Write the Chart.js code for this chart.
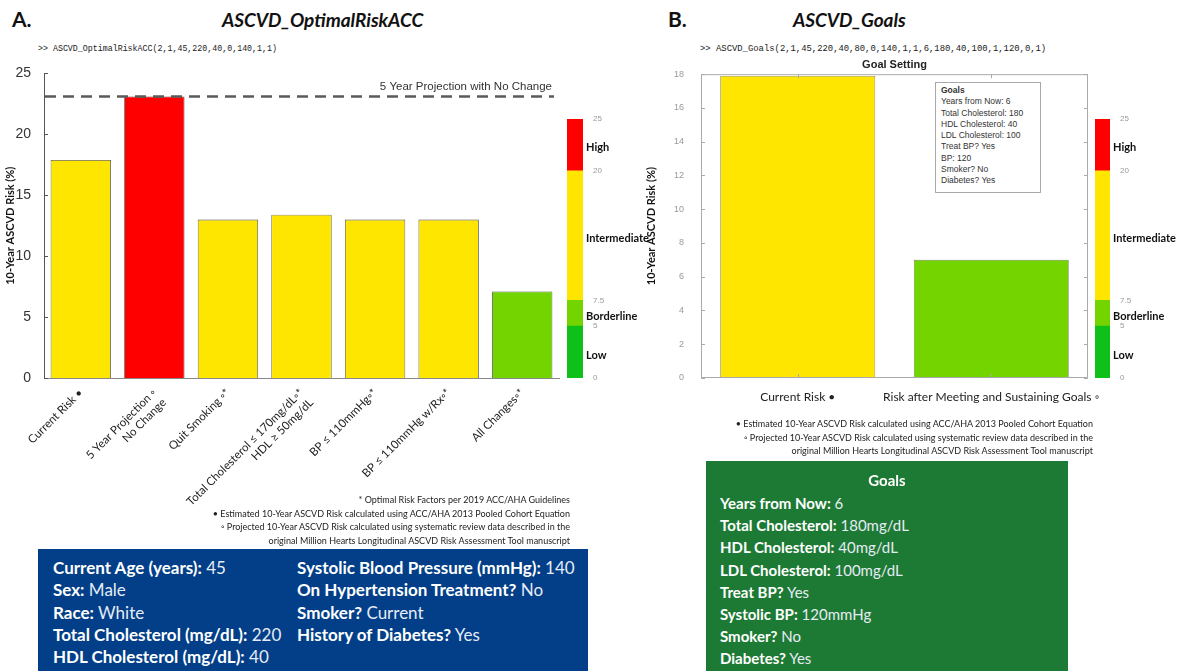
<!DOCTYPE html>
<html>
<head>
<meta charset="utf-8">
<script src="https://cdn.jsdelivr.net/npm/chart.js@4.4.1/dist/chart.umd.min.js"></script>
<style>
  body { margin: 0; width: 1180px; height: 671px; overflow: hidden; background: #fff; position: relative; font-family: Lato, "Open Sans", sans-serif; color: #111; }
  .abs { position: absolute; white-space: nowrap; }
  canvas { position: absolute; }
  .panel { font-weight: bold; font-size: 21px; }
  .ftitle { font-weight: bold; font-style: italic; font-size: 19px; }
  .cmd { font-family: "Liberation Mono", monospace; font-size: 8.3px; color: #222; }
  .foot { font-size: 9px; line-height: 13.5px; text-align: right; color: #222; }
  .goalsBox { border: 1px solid #aaa; background: #fff; font-family: "Liberation Sans", sans-serif; font-size: 8.5px; line-height: 11.3px; color: #333; padding: 2px 0 0 5px; box-sizing: border-box; }
  .info { font-size: 15px; line-height: 22.2px; color: #e6ecf5; }
  .info b { color: #fff; }
  .blue { font-size: 17px; line-height: 22.3px; }
</style>
</head>
<body>

<div class="abs panel" style="left:12px; top:6px;">A.</div>
<div class="abs ftitle" style="left:222px; top:8px;">ASCVD_OptimalRiskACC</div>
<div class="abs cmd" style="left:38px; top:44px;">&gt;&gt; ASCVD_OptimalRiskACC(2,1,45,220,40,0,140,1,1)</div>

<div class="abs panel" style="left:668px; top:6px;">B.</div>
<div class="abs ftitle" style="left:793px; top:8px;">ASCVD_Goals</div>
<div class="abs cmd" style="left:700px; top:44px; font-size:8.9px;">&gt;&gt; ASCVD_Goals(2,1,45,220,40,80,0,140,1,1,6,180,40,100,1,120,0,1)</div>

<canvas id="chartA" width="560" height="450" style="left:0px; top:60px;"></canvas>
<canvas id="barA" width="110" height="275" style="left:567px; top:110px;"></canvas>
<canvas id="chartB" width="460" height="360" style="left:640px; top:55px;"></canvas>
<canvas id="barB" width="85" height="275" style="left:1095px; top:110px;"></canvas>

<div class="abs goalsBox" style="left:935px; top:82px; width:106px; height:111px;">
  <b>Goals</b><br>Years from Now: 6<br>Total Cholesterol: 180<br>HDL Cholesterol: 40<br>LDL Cholesterol: 100<br>Treat BP? Yes<br>BP: 120<br>Smoker? No<br>Diabetes? Yes
</div>

<div class="abs foot" style="right:610px; top:493px;">
  * Optimal Risk Factors per 2019 ACC/AHA Guidelines<br>
  • Estimated 10-Year ASCVD Risk calculated using ACC/AHA 2013 Pooled Cohort Equation<br>
  ◦ Projected 10-Year ASCVD Risk calculated using systematic review data described in the<br>
  original Million Hearts Longitudinal ASCVD Risk Assessment Tool manuscript
</div>
<div class="abs foot" style="right:87px; top:417px;">
  • Estimated 10-Year ASCVD Risk calculated using ACC/AHA 2013 Pooled Cohort Equation<br>
  ◦ Projected 10-Year ASCVD Risk calculated using systematic review data described in the<br>
  original Million Hearts Longitudinal ASCVD Risk Assessment Tool manuscript
</div>

<div class="abs info blue" style="left:38px; top:549px; width:550px; height:122px; background:#023f88;">
  <div class="abs" style="left:15px; top:8px;">
    <b>Current Age (years):</b> 45<br><b>Sex:</b> Male<br><b>Race:</b> White<br><b>Total Cholesterol (mg/dL):</b> 220<br><b>HDL Cholesterol (mg/dL):</b> 40
  </div>
  <div class="abs" style="left:259px; top:8px;">
    <b>Systolic Blood Pressure (mmHg):</b> 140<br><b>On Hypertension Treatment?</b> No<br><b>Smoker?</b> Current<br><b>History of Diabetes?</b> Yes
  </div>
</div>

<div class="abs info" style="left:706px; top:461px; width:362px; height:210px; background:#1d7a34;">
  <div class="abs" style="left:0; top:8px; width:362px; text-align:center;"><b>Goals</b></div>
  <div class="abs" style="left:14px; top:31px;">
    <b>Years from Now:</b> 6<br><b>Total Cholesterol:</b> 180mg/dL<br><b>HDL Cholesterol:</b> 40mg/dL<br><b>LDL Cholesterol:</b> 100mg/dL<br><b>Treat BP?</b> Yes<br><b>Systolic BP:</b> 120mmHg<br><b>Smoker?</b> No<br><b>Diabetes?</b> Yes
  </div>
</div>

<script>
// panel A data
const riskLabels = [
    ['Current Risk •'],
    ['5 Year Projection ◦', 'No Change'],
    ['Quit Smoking ◦*'],
    ['Total Cholesterol ≤ 170mg/dL◦*', 'HDL ≥ 50mg/dL'],
    ['BP ≤ 110mmHg◦*'],
    ['BP ≤ 110mmHg w/Rx◦*'],
    ['All Changes◦*']
];
const riskValues = [17.9, 23.1, 13.0, 13.4, 13.0, 13.0, 7.1];
const projectionValue = 23.1;
const projectionText = '5 Year Projection with No Change';

// panel B data
const goalLabels = ['Current Risk •', 'Risk after Meeting and Sustaining Goals ◦'];
const goalValues = [17.9, 7.0];

// risk bands for the colour bars
const bandEdges = [0, 5, 7.5, 20, 25];
const bandNames = ['Low', 'Borderline', 'Intermediate', 'High'];
const bandColors = ['#0fc01a', '#74d400', '#ffe600', '#ff0000'];

function colorFor(v) {
    for (let i = bandEdges.length - 2; i >= 0; i--) {
        if (v >= bandEdges[i]) return bandColors[i];
    }
    return bandColors[0];
}

const lato = 'Lato, "Open Sans", sans-serif';
const helv = '"Liberation Sans", Arial, sans-serif';

// ticks pointing into the plot, MATLAB style
const inwardTicks = {
    id: 'inwardTicks',
    afterDraw(chart, args, opts) {
        const { ctx, chartArea: a, scales: { x, y } } = chart;
        ctx.save();
        ctx.strokeStyle = opts.color;
        ctx.lineWidth = 1;
        ctx.beginPath();
        y.ticks.forEach(t => {
            const p = Math.round(y.getPixelForValue(t.value)) + 0.5;
            ctx.moveTo(a.left, p); ctx.lineTo(a.left + opts.len, p);
            if (opts.box) { ctx.moveTo(a.right, p); ctx.lineTo(a.right - opts.len, p); }
        });
        if (opts.box) {
            x.ticks.forEach((t, i) => {
                const p = Math.round(x.getPixelForTick(i)) + 0.5;
                ctx.moveTo(p, a.top); ctx.lineTo(p, a.top + opts.len);
                ctx.moveTo(p, a.bottom); ctx.lineTo(p, a.bottom - opts.len);
            });
            ctx.rect(a.left + 0.5, a.top + 0.5, a.width - 1, a.height - 1);
        }
        ctx.stroke();
        ctx.restore();
    }
};

const projectionLine = {
    id: 'projectionLine',
    afterDatasetsDraw(chart) {
        const { ctx, chartArea, scales: { y } } = chart;
        const py = y.getPixelForValue(projectionValue);
        ctx.save();
        ctx.strokeStyle = '#5a5a5a';
        ctx.lineWidth = 2.5;
        ctx.setLineDash([11, 7]);
        ctx.beginPath();
        ctx.moveTo(chartArea.left + 1, py);
        ctx.lineTo(chartArea.right - 5, py);
        ctx.stroke();
        ctx.setLineDash([]);
        ctx.font = '11.5px ' + helv;
        ctx.fillStyle = '#333';
        ctx.textAlign = 'right';
        ctx.textBaseline = 'bottom';
        ctx.fillText(projectionText, chartArea.right - 7, py - 4);
        ctx.restore();
    }
};

const bandText = {
    id: 'bandText',
    afterDraw(chart) {
        const { ctx, chartArea, scales: { y } } = chart;
        ctx.save();
        ctx.font = 'bold 11px ' + lato;
        ctx.fillStyle = '#111';
        ctx.textBaseline = 'middle';
        bandNames.forEach((name, i) => {
            const mid = y.getPixelForValue((bandEdges[i] + bandEdges[i + 1]) / 2);
            ctx.fillText(name, chartArea.right + 3, mid + 3);
        });
        ctx.restore();
    }
};

function makeColorBar(id, axisWidth) {
    new Chart(document.getElementById(id), {
        type: 'bar',
        data: {
            labels: [''],
            datasets: bandNames.map((name, i) => ({
                label: name,
                data: [[bandEdges[i], bandEdges[i + 1]]],
                backgroundColor: bandColors[i],
                borderWidth: 0,
                grouped: false,
                barPercentage: 1,
                categoryPercentage: 1
            }))
        },
        options: {
            responsive: false,
            animation: false,
            layout: { padding: { top: 9, bottom: 7, left: 0, right: 0 } },
            plugins: { legend: { display: false }, tooltip: { enabled: false } },
            scales: {
                x: { display: false },
                y: {
                    position: 'right',
                    min: 0, max: 25,
                    grid: { display: false },
                    border: { display: false },
                    afterBuildTicks: axis => { axis.ticks = bandEdges.map(v => ({ value: v })); },
                    afterFit: axis => { axis.width = axisWidth; },
                    ticks: { padding: 2, color: '#999', font: { size: 8, family: helv } }
                }
            }
        },
        plugins: [bandText]
    });
}

// panel A
new Chart(document.getElementById('chartA'), {
    type: 'bar',
    data: {
        labels: riskLabels,
        datasets: [{
            data: riskValues,
            backgroundColor: riskValues.map(colorFor),
            borderColor: '#444',
            borderWidth: 0.8,
            barPercentage: 0.82,
            categoryPercentage: 1
        }]
    },
    options: {
        responsive: false,
        animation: false,
        layout: { padding: { top: 7, right: 1, bottom: 0, left: 0 } },
        plugins: {
            legend: { display: false },
            tooltip: { enabled: false },
            inwardTicks: { color: '#555', len: 4, box: false }
        },
        scales: {
            x: {
                grid: { display: false },
                border: { color: '#888' },
                afterFit: axis => { axis.height = 132; axis.paddingLeft = 0; axis.paddingRight = 0; },
                ticks: {
                    autoSkip: false, minRotation: 45, maxRotation: 45, padding: 0,
                    color: '#222', font: { size: 11.5, family: lato }
                }
            },
            y: {
                min: 0, max: 25,
                grid: { display: false },
                border: { color: '#555' },
                afterFit: axis => { axis.width = 44; },
                ticks: { stepSize: 5, padding: 5, color: '#333', font: { size: 14, family: helv } },
                title: {
                    display: true, text: '10-Year ASCVD Risk (%)', color: '#111',
                    padding: { top: 4, bottom: 0 }, font: { size: 11, weight: 'bold', family: lato }
                }
            }
        }
    },
    plugins: [projectionLine, inwardTicks]
});

// panel B
new Chart(document.getElementById('chartB'), {
    type: 'bar',
    data: {
        labels: goalLabels,
        datasets: [{
            data: goalValues,
            backgroundColor: goalValues.map(colorFor),
            borderColor: '#444',
            borderWidth: 0.6,
            barPercentage: 0.8,
            categoryPercentage: 1
        }]
    },
    options: {
        responsive: false,
        animation: false,
        layout: { padding: { top: 0, right: 12, bottom: 0, left: 0 } },
        plugins: {
            legend: { display: false },
            tooltip: { enabled: false },
            title: {
                display: true, text: 'Goal Setting', fullSize: false, color: '#222',
                padding: { top: 3, bottom: 3 }, font: { size: 11, weight: 'bold', family: helv }
            },
            inwardTicks: { color: '#aaa', len: 4, box: true }
        },
        scales: {
            x: {
                grid: { display: false },
                border: { display: false },
                afterFit: axis => { axis.height = 37; axis.paddingLeft = 0; axis.paddingRight = 0; },
                ticks: { autoSkip: false, padding: 4, maxRotation: 0, color: '#222', font: { size: 12, family: lato } }
            },
            y: {
                min: 0, max: 18,
                grid: { display: false },
                border: { display: false },
                afterFit: axis => { axis.width = 61; },
                ticks: { stepSize: 2, padding: 9, color: '#999', font: { size: 9, family: helv } },
                title: {
                    display: true, text: '10-Year ASCVD Risk (%)', color: '#111',
                    padding: { top: 5, bottom: 0 }, font: { size: 11, weight: 'bold', family: lato }
                }
            }
        }
    },
    plugins: [inwardTicks]
});

makeColorBar('barA', 94);
makeColorBar('barB', 70);
</script>
</body>
</html>
